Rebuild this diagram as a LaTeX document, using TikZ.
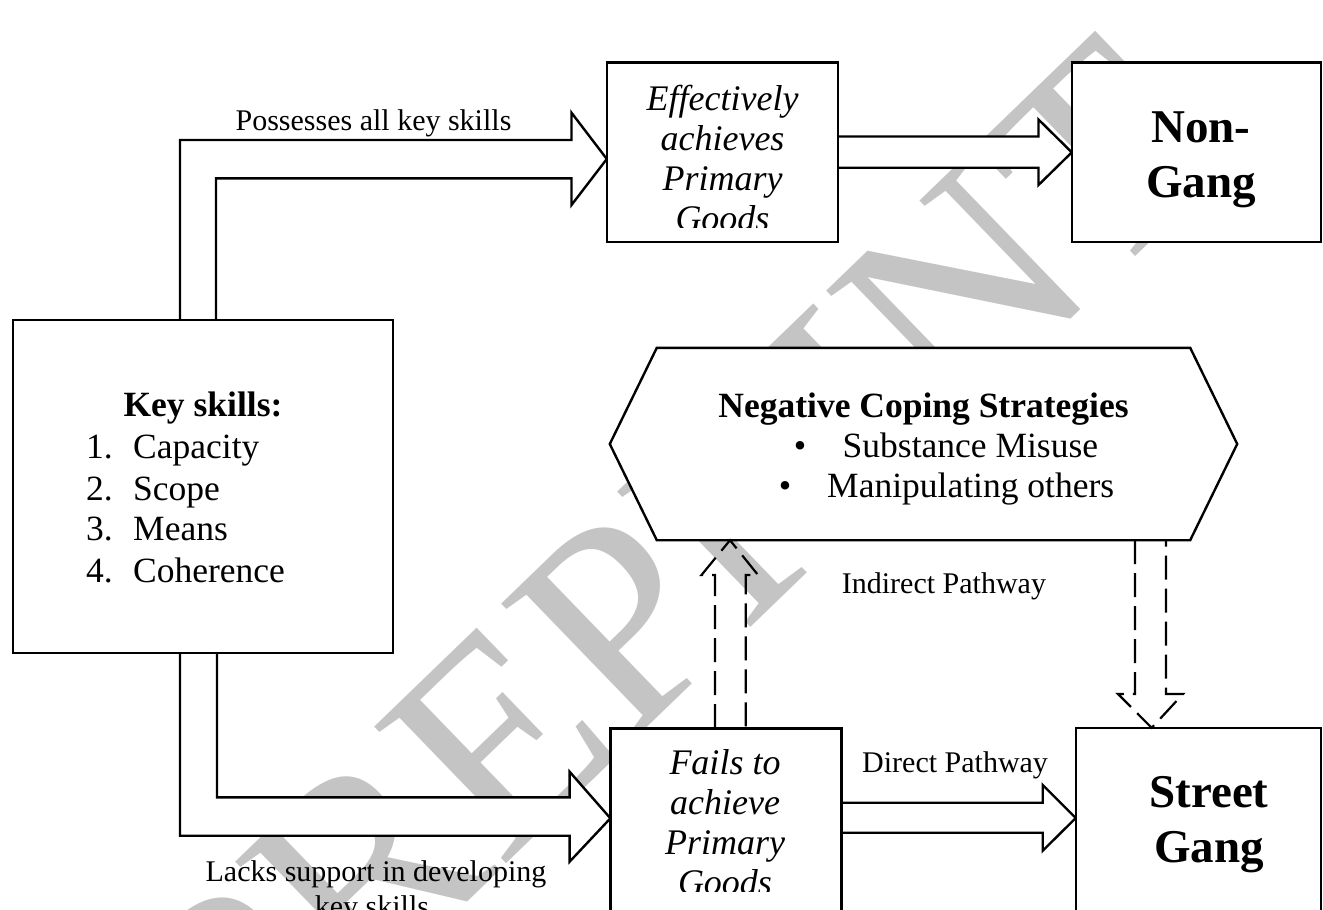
\documentclass[tikz,border=0pt]{standalone}
\usepackage{fontspec}
\setmainfont{Liberation Serif}
\usetikzlibrary{calc}
\definecolor{wmgray}{RGB}{196,196,196}
\begin{document}
\begin{tikzpicture}[x=1pt,y=-1pt,
  box/.style={draw=black, line width=2.8pt, fill=white, inner sep=0pt, rectangle},
  blockarrow/.style={draw=black, line width=2.4pt, fill=white, line join=miter},
  dasharrow/.style={draw=black, line width=2.2pt, dash pattern=on 24pt off 9pt},
  lblfont/.style={font=\fontsize{30}{34}\selectfont, inner sep=0pt},
  listfont/.style={font=\fontsize{35.5}{40}\selectfont, inner sep=0pt},
  titlefont/.style={font=\fontsize{35.5}{40}\selectfont\bfseries, inner sep=0pt},
  boxfont/.style={font=\fontsize{36}{40}\selectfont\itshape, inner sep=0pt},
  gangfont/.style={font=\fontsize{47}{54}\selectfont\bfseries, inner sep=0pt},
]
\useasboundingbox (0,0) rectangle (1323,910);
\fill[white] (0,0) rectangle (1323,910);
\clip (0,0) rectangle (1323,910);

% watermark
\node[rotate=44, text=wmgray, inner sep=0pt, font=\fontsize{290}{290}\selectfont] (wm) at (672,572) {PREPRINT};

% node frames (positions)
\node[minimum width=380pt, minimum height=333pt, inner sep=0pt] (key) at (203,486.5) {};
\node[minimum width=231pt, minimum height=179.3pt, inner sep=0pt] (eff) at (722.5,152.35) {};
\node[minimum width=249pt, minimum height=179.3pt, inner sep=0pt] (non) at (1196.5,152.35) {};
\node[minimum width=231.2pt, minimum height=240pt, inner sep=0pt] (fail) at (726.2,848.3) {};
\node[minimum width=245pt, minimum height=240pt, inner sep=0pt] (street) at (1198.5,848) {};
\node[minimum width=627pt, minimum height=192pt, inner sep=0pt] (hex) at (923.5,444) {};

% block arrows
\filldraw[blockarrow] (180,0 |- key.north) -- (180,140) -- (571.5,140) -- (571.5,112.7)
  -- (eff.west |- 0,159) -- (571.5,205) -- (571.5,178.3) -- (216,178.3) -- (216,0 |- key.north);
\filldraw[blockarrow] (eff.east |- 0,136.5) -- (1038.5,136.5) -- (1038.5,119.5)
  -- (non.west) -- (1038.5,185) -- (1038.5,167.7) -- (eff.east |- 0,167.7);
\filldraw[blockarrow] (180,0 |- key.south) -- (180,835.7) -- (569.6,835.7) -- (569.6,861.7)
  -- (fail.west |- 0,818.3) -- (569.6,771.7) -- (569.6,797.3) -- (217,797.3) -- (217,0 |- key.south);
\filldraw[blockarrow] (fail.east |- 0,802.7) -- (1042.7,802.7) -- (1042.7,785)
  -- (street.west |- 0,818) -- (1042.7,850.7) -- (1042.7,832.7) -- (fail.east |- 0,832.7);

% boxes
\node[box, minimum width=380pt, minimum height=333pt] (keyb) at (key) {};
\node[box, minimum width=231pt, minimum height=179.3pt] (effb) at (eff) {};
\node[box, minimum width=249pt, minimum height=179.3pt] (nonb) at (non) {};
\node[box, minimum width=231.2pt, minimum height=240pt] (failb) at (fail) {};
\node[box, minimum width=245pt, minimum height=240pt] (streetb) at (street) {};
\filldraw[draw=black, fill=white, line width=2.4pt] (hex.west) -- ([xshift=47pt]hex.north west)
  -- ([xshift=-47pt]hex.north east) -- (hex.east) -- ([xshift=-47pt]hex.south east)
  -- ([xshift=47pt]hex.south west) -- cycle;

% dashed arrows
\draw[dasharrow] (715,0 |- fail.north) -- (715,575) -- (701.5,575) -- (730,0 |- hex.south)
  -- (758,575) -- (745.7,575) -- (745.7,0 |- fail.north);
\draw[dasharrow] (1135,0 |- hex.south) -- (1135,694) -- (1118,694) -- (1151.7,0 |- street.north)
  -- (1183,694) -- (1166,694) -- (1166,0 |- hex.south);

% labels
\node[lblfont, anchor=base] (lposs) at (373.5,130) {Possesses all key skills};
\node[lblfont, anchor=base west] (lind) at (841.7,593) {Indirect Pathway};
\node[lblfont, anchor=base west] (ldir) at (862,772.7) {Direct Pathway};
\node[lblfont, anchor=base] (llack1) at (376,881.7) {Lacks support in developing};
\node[lblfont, anchor=base] (llack2) at (372,916) {key skills};

% key skills
\node[titlefont, anchor=base] (kt) at (203,416.7) {Key skills:};
\node[listfont, anchor=base west] (k1n) at (86,458) {1.};
\node[listfont, anchor=base west] (k1) at (133,458) {Capacity};
\node[listfont, anchor=base west] (k2n) at (86,500) {2.};
\node[listfont, anchor=base west] (k2) at (133,500) {Scope};
\node[listfont, anchor=base west] (k3n) at (86,540.7) {3.};
\node[listfont, anchor=base west] (k3) at (133,540.7) {Means};
\node[listfont, anchor=base west] (k4n) at (86,582.7) {4.};
\node[listfont, anchor=base west] (k4) at (133,582.7) {Coherence};

% hexagon text
\node[titlefont, anchor=base] (ht) at (923.5,417) {Negative Coping Strategies};
\node[listfont, anchor=base] (hb1) at (800,457) {•};
\node[listfont, anchor=base west] (h1) at (842.5,457) {Substance Misuse};
\node[listfont, anchor=base] (hb2) at (785,497) {•};
\node[listfont, anchor=base west] (h2) at (827,497) {Manipulating others};

% box texts
\begin{scope}
\clip (eff.north west) rectangle (eff.east |- 0,227);
\node[boxfont, anchor=base] (e1) at (722.5,110) {Effectively};
\node[boxfont, anchor=base] (e2) at (722.5,150) {achieves};
\node[boxfont, anchor=base] (e3) at (722.5,190) {Primary};
\node[boxfont, anchor=base] (e4) at (722.5,230) {Goods};
\end{scope}
\begin{scope}
\clip (fail.north west) rectangle (fail.east |- 0,891);
\node[boxfont, anchor=base] (f1) at (725,774) {Fails to};
\node[boxfont, anchor=base] (f2) at (725,814) {achieve};
\node[boxfont, anchor=base] (f3) at (725,854) {Primary};
\node[boxfont, anchor=base] (f4) at (725,894) {Goods};
\end{scope}

\node[gangfont, anchor=base] (n1) at (1201,142.7) {Non-};
\node[gangfont, anchor=base] (n2) at (1201,197.5) {Gang};
\node[gangfont, anchor=base] (s1) at (1209,807) {Street};
\node[gangfont, anchor=base] (s2) at (1209,862) {Gang};
\end{tikzpicture}
\end{document}
